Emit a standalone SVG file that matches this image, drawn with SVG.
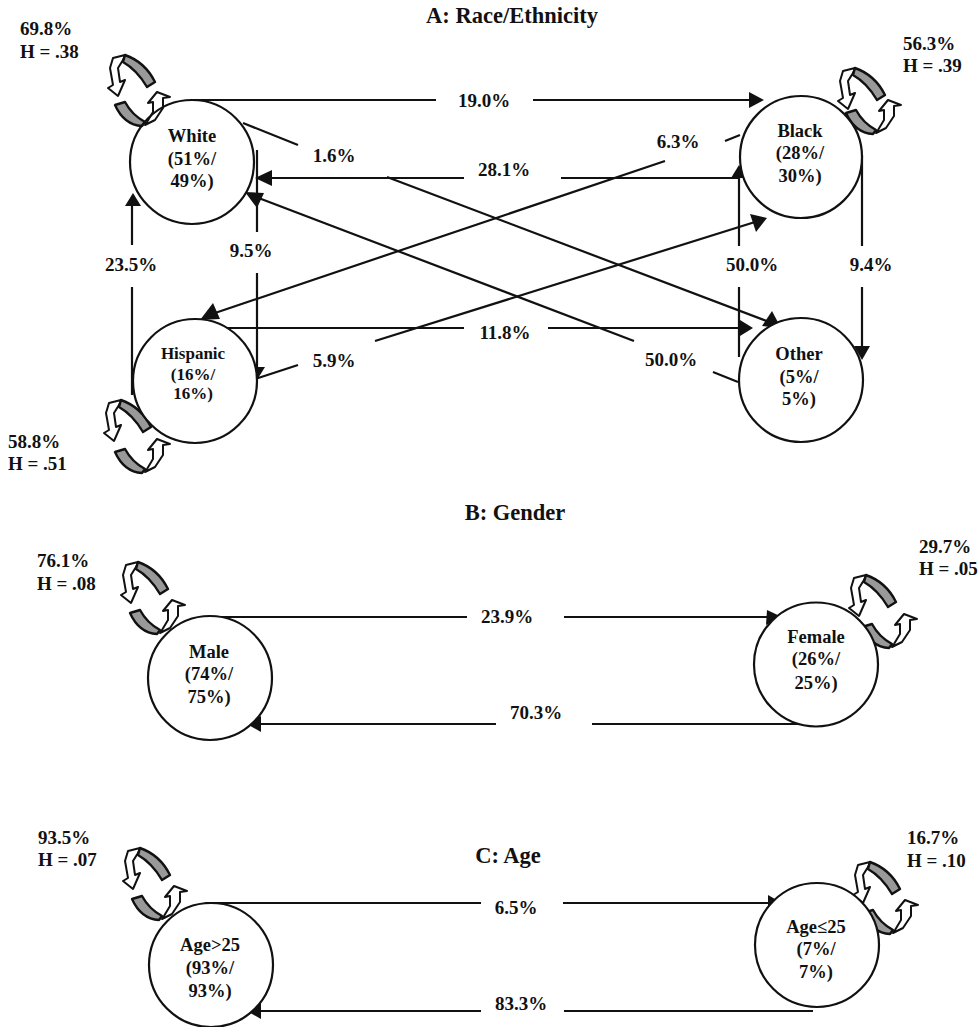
<svg xmlns="http://www.w3.org/2000/svg" xmlns:xlink="http://www.w3.org/1999/xlink" width="980" height="1027" viewBox="0 0 980 1027">
<style>
text{font-family:"Liberation Serif","Times New Roman",serif;font-weight:bold;fill:#111;font-size:19px}
.n text,.c{text-anchor:middle}
.n text{font-size:18.5px}
.n circle{fill:#fff;stroke:#111;stroke-width:2.2}
.t{font-size:22.5px;text-anchor:middle}
.l{stroke:#111;stroke-width:2.2;fill:none}
.h{fill:#111;stroke:none}
.band{fill:#999;stroke:#111;stroke-width:2.4;stroke-linejoin:round}
.arr{fill:#fff;stroke:#111;stroke-width:2;stroke-linejoin:round}
</style>
<defs>
<g id="loopA">
<path class="arr" d="M125,55 L113,58 L110,68 L113,85 L108,88 L118,96 L125,80 L120,82 L118,68 L123,60Z"/>
<path class="band" d="M125,55 Q145,62 155,82 L147,87 Q137,70 123,62Z"/>
</g>
<g id="loopB">
<path class="arr" d="M145,125 L155,120 L163,108 L163,98 L170,97 L157,92 L148,103 L153,102 L153,112 L147,122Z"/>
<path class="band" d="M115,105 L125,102 Q132,115 145,122 L142,126 Q124,125 115,105Z"/>
</g>
</defs>
<rect width="980" height="1027" fill="#fff"/>

<g id="connectors">
<path class="l" d="M190,100H436M533,100H752"/><path class="h" d="M764,100L749,92V108Z"/>
<path class="l" d="M243,123L298,145M387,177L772,323"/><path class="h" d="M781,328L762,326L772,311Z"/>
<path class="l" d="M740,178H561M464,178H268"/><path class="h" d="M255,178L272,170V186Z"/>
<path class="l" d="M740,135L725,141M665,161L212,314"/><path class="h" d="M200,320L213,303L220,319Z"/>
<path class="l" d="M132,395V287M132,245V200"/><path class="h" d="M133,193L125,206H141Z"/>
<path class="l" d="M257,150V232M257,273V370"/><path class="h" d="M257,380L249,367H265Z"/>
<path class="l" d="M634,341L256,197M713,372L738,382"/><path class="h" d="M245,192L264,193L257,208Z"/>
<path class="l" d="M243,383L298,365M375,341L755,222"/><path class="h" d="M767,218L750,214L756,232Z"/>
<path class="l" d="M223,328H464M548,328H742"/><path class="h" d="M753,328L740,320V336Z"/>
<path class="l" d="M739,357V287M739,246V172"/><path class="h" d="M739,165L731,178H747Z"/>
<path class="l" d="M862,155V246M862,287V350"/><path class="h" d="M862,360L854,346H870Z"/>
<path class="l" d="M215,617H467M564,617H772"/><path class="h" d="M782,617L767,610L766,625Z"/>
<path class="l" d="M816,724H592M496,724H258"/><path class="h" d="M247,724L261,716V732Z"/>
<path class="l" d="M205,903H481M563,903H772"/><path class="h" d="M782,903L768,895V911Z"/>
<path class="l" d="M813,1011H564M481,1011H258"/><path class="h" d="M247,1011L261,1003V1019Z"/>
<text class="c" x="484" y="107">19.0%</text>
<text class="c" x="334" y="162">1.6%</text>
<text class="c" x="504" y="176">28.1%</text>
<text class="c" x="678" y="148">6.3%</text>
<text class="c" x="131" y="271">23.5%</text>
<text class="c" x="251" y="257">9.5%</text>
<text class="c" x="752" y="271">50.0%</text>
<text class="c" x="871" y="271">9.4%</text>
<text class="c" x="505" y="339">11.8%</text>
<text class="c" x="334" y="367">5.9%</text>
<text class="c" x="671" y="366">50.0%</text>
<text class="c" x="507" y="623">23.9%</text>
<text class="c" x="536" y="719">70.3%</text>
<text class="c" x="516" y="914">6.5%</text>
<text class="c" x="521" y="1010">83.3%</text>
</g>

<text class="t" x="512" y="23">A: Race/Ethnicity</text>
<text class="t" x="515" y="520">B: Gender</text>
<text class="t" x="508" y="863">C: Age</text>

<g id="white" class="n">
<use href="#loopA"/><use href="#loopB"/>
<circle cx="192" cy="162" r="62" fill-opacity="0"/>
<text x="192" y="142">White</text><text x="192" y="165">(51%/</text><text x="192" y="187">49%)</text>
</g>
<g id="black" class="n">
<use href="#loopA" transform="translate(730,13)"/><use href="#loopB" transform="translate(731,8)"/>
<circle cx="801" cy="157" r="61"/>
<text x="800" y="137">Black</text><text x="800" y="159">(28%/</text><text x="800" y="182">30%)</text>
</g>
<g id="hispanic" class="n">
<use href="#loopA" transform="translate(-4,345)"/><use href="#loopB" transform="translate(0,347)"/>
<circle cx="195" cy="381" r="62"/>
<text x="193" y="359" style="font-size:17px">Hispanic</text><text x="193" y="380" style="font-size:17px">(16%/</text><text x="193" y="399" style="font-size:17px">16%)</text>
</g>
<g id="other" class="n">
<circle cx="801" cy="380" r="62"/>
<text x="799" y="360">Other</text><text x="799" y="383">(5%/</text><text x="799" y="405">5%)</text>
</g>
<g id="male" class="n">
<use href="#loopA" transform="translate(13,507)"/><use href="#loopB" transform="translate(15,508)"/>
<circle cx="210" cy="678" r="62"/>
<text x="209" y="658">Male</text><text x="209" y="680">(74%/</text><text x="209" y="703">75%)</text>
</g>
<g id="female" class="n">
<use href="#loopA" transform="translate(741,520)"/><use href="#loopB" transform="translate(747,522)"/>
<circle cx="816" cy="664.5" r="62"/>
<text x="816" y="643">Female</text><text x="816" y="665">(26%/</text><text x="816" y="689">25%)</text>
</g>
<g id="age-over-25" class="n">
<use href="#loopA" transform="translate(15,793)"/><use href="#loopB" transform="translate(17,794)"/>
<circle cx="211" cy="965" r="62"/>
<text x="210" y="951">Age&gt;25</text><text x="210" y="974">(93%/</text><text x="210" y="997">93%)</text>
</g>
<g id="age-under-25" class="n">
<use href="#loopA" transform="translate(745,807)"/><use href="#loopB" transform="translate(748,808)"/>
<circle cx="817" cy="945" r="62"/>
<text x="816" y="933">Age≤25</text><text x="816" y="955">(7%/</text><text x="816" y="978">7%)</text>
</g>

<g id="loop-labels">
<text x="20" y="35">69.8%</text><text x="20" y="58">H = .38</text>
<text x="903" y="50">56.3%</text><text x="903" y="72">H = .39</text>
<text x="8" y="448">58.8%</text><text x="8" y="470">H = .51</text>
<text x="37" y="567">76.1%</text><text x="37" y="590">H = .08</text>
<text x="919" y="553">29.7%</text><text x="919" y="575">H = .05</text>
<text x="38" y="844">93.5%</text><text x="38" y="866">H = .07</text>
<text x="907" y="844">16.7%</text><text x="907" y="867">H = .10</text>
</g>
</svg>
